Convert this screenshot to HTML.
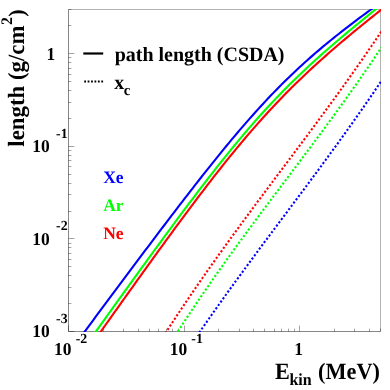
<!DOCTYPE html>
<html><head><meta charset="utf-8"><title>chart</title><style>html,body{margin:0;padding:0;background:#fff;width:390px;height:390px;overflow:hidden}</style></head><body>
<svg width="390" height="390" viewBox="0 0 390 390" style="position:absolute;left:0;top:0;will-change:transform;opacity:0.999">
<defs><clipPath id="cp"><rect x="68.0" y="9.0" width="313.0" height="323.0"/></clipPath></defs>
<rect width="390" height="390" fill="#fff"/>
<g stroke="#000" stroke-width="1" fill="none">
<path d="M68.5,9.5 H380.5 V331.5" stroke-opacity="0.3"/>
<path d="M68.5,9.5 V331.5 H380.5" stroke-opacity="0.47"/>
<path d="M68.5,331.5 v-5.9 M103.5,331.5 v-2.9 M123.5,331.5 v-2.9 M138.5,331.5 v-2.9 M149.5,331.5 v-2.9 M158.5,331.5 v-2.9 M166.5,331.5 v-2.9 M172.5,331.5 v-2.9 M178.5,331.5 v-2.9 M184.5,331.5 v-5.9 M218.5,331.5 v-2.9 M239.5,331.5 v-2.9 M253.5,331.5 v-2.9 M264.5,331.5 v-2.9 M274.5,331.5 v-2.9 M281.5,331.5 v-2.9 M288.5,331.5 v-2.9 M294.5,331.5 v-2.9 M299.5,331.5 v-5.9 M334.5,331.5 v-2.9 M354.5,331.5 v-2.9 M369.5,331.5 v-2.9 M380.5,331.5 v-2.9 M68.5,331.5 h5.9 M68.5,303.5 h2.9 M68.5,287.5 h2.9 M68.5,275.5 h2.9 M68.5,266.5 h2.9 M68.5,259.5 h2.9 M68.5,253.5 h2.9 M68.5,247.5 h2.9 M68.5,243.5 h2.9 M68.5,238.5 h5.9 M68.5,211.5 h2.9 M68.5,194.5 h2.9 M68.5,183.5 h2.9 M68.5,174.5 h2.9 M68.5,166.5 h2.9 M68.5,160.5 h2.9 M68.5,155.5 h2.9 M68.5,150.5 h2.9 M68.5,146.5 h5.9 M68.5,118.5 h2.9 M68.5,102.5 h2.9 M68.5,90.5 h2.9 M68.5,81.5 h2.9 M68.5,74.5 h2.9 M68.5,68.5 h2.9 M68.5,62.5 h2.9 M68.5,57.5 h2.9 M68.5,53.5 h5.9 M68.5,25.5 h2.9 M68.5,9.5 h2.9" stroke-opacity="0.36"/>
</g>
<g clip-path="url(#cp)" fill="none" stroke-width="2.1">
<path d="M75.00,368.07 L77.61,364.37 L80.23,360.67 L82.84,356.97 L85.45,353.27 L88.07,349.58 L90.68,345.88 L93.29,342.19 L95.91,338.49 L98.52,334.80 L101.13,331.12 L103.75,327.43 L106.36,323.74 L108.97,320.06 L111.59,316.38 L114.20,312.70 L116.82,309.02 L119.43,305.35 L122.04,301.68 L124.66,298.01 L127.27,294.35 L129.88,290.69 L132.50,287.03 L135.11,283.38 L137.72,279.73 L140.34,276.08 L142.95,272.44 L145.56,268.80 L148.18,265.17 L150.79,261.55 L153.40,257.93 L156.02,254.31 L158.63,250.71 L161.24,247.11 L163.86,243.51 L166.47,239.93 L169.08,236.35 L171.70,232.78 L174.31,229.22 L176.92,225.67 L179.54,222.12 L182.15,218.59 L184.76,215.07 L187.38,211.56 L189.99,208.06 L192.61,204.58 L195.22,201.11 L197.83,197.65 L200.45,194.20 L203.06,190.78 L205.67,187.36 L208.29,183.97 L210.90,180.59 L213.51,177.22 L216.13,173.88 L218.74,170.55 L221.35,167.25 L223.97,163.96 L226.58,160.70 L229.19,157.46 L231.81,154.24 L234.42,151.04 L237.03,147.87 L239.65,144.72 L242.26,141.60 L244.87,138.50 L247.49,135.43 L250.10,132.38 L252.71,129.36 L255.33,126.37 L257.94,123.40 L260.55,120.46 L263.17,117.55 L265.78,114.67 L268.39,111.81 L271.01,108.99 L273.62,106.19 L276.24,103.41 L278.85,100.67 L281.46,97.95 L284.08,95.27 L286.69,92.60 L289.30,89.97 L291.92,87.36 L294.53,84.78 L297.14,82.22 L299.76,79.69 L302.37,77.18 L304.98,74.69 L307.60,72.23 L310.21,69.79 L312.82,67.38 L315.44,64.98 L318.05,62.61 L320.66,60.25 L323.28,57.92 L325.89,55.60 L328.50,53.30 L331.12,51.02 L333.73,48.75 L336.34,46.50 L338.96,44.27 L341.57,42.05 L344.18,39.84 L346.80,37.65 L349.41,35.47 L352.03,33.30 L354.64,31.14 L357.25,29.00 L359.87,26.86 L362.48,24.73 L365.09,22.62 L367.71,20.51 L370.32,18.41 L372.93,16.32 L375.55,14.24 L378.16,12.16 L380.77,10.09 L383.39,8.03 L386.00,5.98" stroke="#ff0000"/>
<path d="M75.00,360.70 L77.61,357.04 L80.23,353.39 L82.84,349.73 L85.45,346.08 L88.07,342.43 L90.68,338.78 L93.29,335.13 L95.91,331.48 L98.52,327.83 L101.13,324.19 L103.75,320.54 L106.36,316.90 L108.97,313.26 L111.59,309.62 L114.20,305.98 L116.82,302.34 L119.43,298.71 L122.04,295.08 L124.66,291.45 L127.27,287.82 L129.88,284.20 L132.50,280.58 L135.11,276.96 L137.72,273.35 L140.34,269.74 L142.95,266.13 L145.56,262.53 L148.18,258.93 L150.79,255.33 L153.40,251.75 L156.02,248.16 L158.63,244.58 L161.24,241.01 L163.86,237.45 L166.47,233.89 L169.08,230.33 L171.70,226.79 L174.31,223.25 L176.92,219.73 L179.54,216.21 L182.15,212.70 L184.76,209.20 L187.38,205.71 L189.99,202.23 L192.61,198.76 L195.22,195.31 L197.83,191.87 L200.45,188.44 L203.06,185.03 L205.67,181.63 L208.29,178.25 L210.90,174.89 L213.51,171.54 L216.13,168.21 L218.74,164.90 L221.35,161.61 L223.97,158.34 L226.58,155.09 L229.19,151.86 L231.81,148.65 L234.42,145.47 L237.03,142.31 L239.65,139.18 L242.26,136.07 L244.87,132.99 L247.49,129.93 L250.10,126.90 L252.71,123.90 L255.33,120.93 L257.94,117.98 L260.55,115.06 L263.17,112.17 L265.78,109.31 L268.39,106.48 L271.01,103.67 L273.62,100.89 L276.24,98.15 L278.85,95.43 L281.46,92.74 L284.08,90.07 L286.69,87.44 L289.30,84.83 L291.92,82.24 L294.53,79.68 L297.14,77.15 L299.76,74.64 L302.37,72.16 L304.98,69.70 L307.60,67.26 L310.21,64.85 L312.82,62.45 L315.44,60.08 L318.05,57.72 L320.66,55.38 L323.28,53.07 L325.89,50.77 L328.50,48.48 L331.12,46.21 L333.73,43.96 L336.34,41.72 L338.96,39.50 L341.57,37.29 L344.18,35.09 L346.80,32.90 L349.41,30.72 L352.03,28.56 L354.64,26.40 L357.25,24.26 L359.87,22.12 L362.48,19.99 L365.09,17.87 L367.71,15.76 L370.32,13.65 L372.93,11.55 L375.55,9.46 L378.16,7.37 L380.77,5.29 L383.39,3.22 L386.00,1.15" stroke="#00ff00"/>
<path d="M75.00,344.65 L77.61,341.13 L80.23,337.61 L82.84,334.08 L85.45,330.56 L88.07,327.05 L90.68,323.53 L93.29,320.01 L95.91,316.49 L98.52,312.98 L101.13,309.46 L103.75,305.95 L106.36,302.44 L108.97,298.93 L111.59,295.42 L114.20,291.91 L116.82,288.41 L119.43,284.90 L122.04,281.40 L124.66,277.90 L127.27,274.40 L129.88,270.91 L132.50,267.41 L135.11,263.92 L137.72,260.43 L140.34,256.95 L142.95,253.47 L145.56,249.99 L148.18,246.52 L150.79,243.04 L153.40,239.58 L156.02,236.12 L158.63,232.66 L161.24,229.21 L163.86,225.76 L166.47,222.32 L169.08,218.88 L171.70,215.45 L174.31,212.03 L176.92,208.61 L179.54,205.20 L182.15,201.80 L184.76,198.41 L187.38,195.03 L189.99,191.65 L192.61,188.29 L195.22,184.94 L197.83,181.59 L200.45,178.26 L203.06,174.94 L205.67,171.64 L208.29,168.35 L210.90,165.07 L213.51,161.81 L216.13,158.56 L218.74,155.33 L221.35,152.12 L223.97,148.92 L226.58,145.75 L229.19,142.59 L231.81,139.45 L234.42,136.34 L237.03,133.25 L239.65,130.18 L242.26,127.13 L244.87,124.10 L247.49,121.11 L250.10,118.13 L252.71,115.19 L255.33,112.27 L257.94,109.37 L260.55,106.51 L263.17,103.67 L265.78,100.86 L268.39,98.08 L271.01,95.33 L273.62,92.61 L276.24,89.92 L278.85,87.26 L281.46,84.63 L284.08,82.03 L286.69,79.46 L289.30,76.92 L291.92,74.41 L294.53,71.93 L297.14,69.48 L299.76,67.05 L302.37,64.65 L304.98,62.29 L307.60,59.94 L310.21,57.63 L312.82,55.34 L315.44,53.07 L318.05,50.83 L320.66,48.62 L323.28,46.42 L325.89,44.25 L328.50,42.10 L331.12,39.97 L333.73,37.86 L336.34,35.77 L338.96,33.70 L341.57,31.64 L344.18,29.60 L346.80,27.58 L349.41,25.57 L352.03,23.58 L354.64,21.60 L357.25,19.64 L359.87,17.68 L362.48,15.74 L365.09,13.81 L367.71,11.90 L370.32,9.99 L372.93,8.09 L375.55,6.20 L378.16,4.32 L380.77,2.44 L383.39,0.58 L386.00,-1.28" stroke="#0000ff"/>
<path d="M150.00,357.56 L152.38,353.73 L154.77,349.92 L157.15,346.13 L159.54,342.37 L161.92,338.62 L164.30,334.90 L166.69,331.20 L169.07,327.53 L171.45,323.87 L173.84,320.23 L176.22,316.61 L178.61,313.02 L180.99,309.44 L183.37,305.88 L185.76,302.33 L188.14,298.81 L190.53,295.30 L192.91,291.81 L195.29,288.33 L197.68,284.87 L200.06,281.43 L202.44,278.00 L204.83,274.58 L207.21,271.18 L209.60,267.79 L211.98,264.42 L214.36,261.06 L216.75,257.71 L219.13,254.37 L221.52,251.04 L223.90,247.73 L226.28,244.42 L228.67,241.13 L231.05,237.85 L233.43,234.57 L235.82,231.30 L238.20,228.05 L240.59,224.80 L242.97,221.55 L245.35,218.32 L247.74,215.09 L250.12,211.87 L252.51,208.65 L254.89,205.44 L257.27,202.23 L259.66,199.03 L262.04,195.84 L264.42,192.64 L266.81,189.45 L269.19,186.26 L271.58,183.08 L273.96,179.90 L276.34,176.71 L278.73,173.53 L281.11,170.35 L283.49,167.17 L285.88,163.99 L288.26,160.81 L290.65,157.63 L293.03,154.45 L295.41,151.26 L297.80,148.08 L300.18,144.88 L302.57,141.69 L304.95,138.49 L307.33,135.29 L309.72,132.09 L312.10,128.88 L314.48,125.66 L316.87,122.44 L319.25,119.21 L321.64,115.97 L324.02,112.73 L326.40,109.48 L328.79,106.22 L331.17,102.96 L333.56,99.68 L335.94,96.40 L338.32,93.10 L340.71,89.80 L343.09,86.49 L345.47,83.16 L347.86,79.82 L350.24,76.47 L352.63,73.11 L355.01,69.74 L357.39,66.35 L359.78,62.95 L362.16,59.53 L364.55,56.10 L366.93,52.66 L369.31,49.20 L371.70,45.72 L374.08,42.23 L376.46,38.72 L378.85,35.20 L381.23,31.66 L383.62,28.09 L386.00,24.52" stroke="#ff0000" stroke-dasharray="2.1 2.0"/>
<path d="M150.00,376.68 L152.38,372.67 L154.77,368.68 L157.15,364.73 L159.54,360.81 L161.92,356.91 L164.30,353.04 L166.69,349.20 L169.07,345.38 L171.45,341.59 L173.84,337.83 L176.22,334.09 L178.61,330.38 L180.99,326.68 L183.37,323.02 L185.76,319.37 L188.14,315.75 L190.53,312.15 L192.91,308.57 L195.29,305.01 L197.68,301.47 L200.06,297.95 L202.44,294.45 L204.83,290.96 L207.21,287.50 L209.60,284.05 L211.98,280.62 L214.36,277.21 L216.75,273.81 L219.13,270.43 L221.52,267.06 L223.90,263.71 L226.28,260.37 L228.67,257.04 L231.05,253.73 L233.43,250.43 L235.82,247.14 L238.20,243.86 L240.59,240.59 L242.97,237.33 L245.35,234.09 L247.74,230.85 L250.12,227.62 L252.51,224.40 L254.89,221.18 L257.27,217.97 L259.66,214.77 L262.04,211.58 L264.42,208.39 L266.81,205.20 L269.19,202.02 L271.58,198.84 L273.96,195.67 L276.34,192.50 L278.73,189.33 L281.11,186.16 L283.49,183.00 L285.88,179.83 L288.26,176.67 L290.65,173.50 L293.03,170.34 L295.41,167.17 L297.80,164.00 L300.18,160.83 L302.57,157.65 L304.95,154.47 L307.33,151.29 L309.72,148.10 L312.10,144.91 L314.48,141.71 L316.87,138.51 L319.25,135.30 L321.64,132.08 L324.02,128.85 L326.40,125.62 L328.79,122.38 L331.17,119.12 L333.56,115.86 L335.94,112.59 L338.32,109.31 L340.71,106.01 L343.09,102.71 L345.47,99.39 L347.86,96.05 L350.24,92.71 L352.63,89.35 L355.01,85.98 L357.39,82.59 L359.78,79.18 L362.16,75.76 L364.55,72.32 L366.93,68.87 L369.31,65.40 L371.70,61.91 L374.08,58.40 L376.46,54.87 L378.85,51.32 L381.23,47.75 L383.62,44.16 L386.00,40.55" stroke="#00ff00" stroke-dasharray="2.1 2.0"/>
<path d="M150.00,408.19 L152.38,404.33 L154.77,400.49 L157.15,396.67 L159.54,392.87 L161.92,389.10 L164.30,385.35 L166.69,381.62 L169.07,377.91 L171.45,374.23 L173.84,370.56 L176.22,366.92 L178.61,363.29 L180.99,359.69 L183.37,356.10 L185.76,352.53 L188.14,348.98 L190.53,345.44 L192.91,341.93 L195.29,338.43 L197.68,334.94 L200.06,331.48 L202.44,328.02 L204.83,324.59 L207.21,321.16 L209.60,317.75 L211.98,314.36 L214.36,310.98 L216.75,307.61 L219.13,304.25 L221.52,300.91 L223.90,297.57 L226.28,294.25 L228.67,290.94 L231.05,287.64 L233.43,284.34 L235.82,281.06 L238.20,277.79 L240.59,274.52 L242.97,271.26 L245.35,268.01 L247.74,264.77 L250.12,261.54 L252.51,258.31 L254.89,255.08 L257.27,251.86 L259.66,248.65 L262.04,245.44 L264.42,242.24 L266.81,239.03 L269.19,235.84 L271.58,232.64 L273.96,229.45 L276.34,226.26 L278.73,223.07 L281.11,219.88 L283.49,216.69 L285.88,213.50 L288.26,210.32 L290.65,207.13 L293.03,203.94 L295.41,200.75 L297.80,197.55 L300.18,194.36 L302.57,191.16 L304.95,187.96 L307.33,184.75 L309.72,181.55 L312.10,178.33 L314.48,175.11 L316.87,171.89 L319.25,168.66 L321.64,165.42 L324.02,162.18 L326.40,158.93 L328.79,155.67 L331.17,152.41 L333.56,149.13 L335.94,145.85 L338.32,142.56 L340.71,139.25 L343.09,135.94 L345.47,132.62 L347.86,129.29 L350.24,125.94 L352.63,122.58 L355.01,119.21 L357.39,115.83 L359.78,112.44 L362.16,109.03 L364.55,105.60 L366.93,102.16 L369.31,98.71 L371.70,95.24 L374.08,91.76 L376.46,88.26 L378.85,84.74 L381.23,81.21 L383.62,77.66 L386.00,74.09" stroke="#0000ff" stroke-dasharray="2.1 2.0"/>
</g>
<path d="M83.3,53.5 H103.2" stroke="#000" stroke-width="2.2"/>
<path d="M84.2,81.4 H103.2" stroke="#000" stroke-width="2" stroke-dasharray="1.8 1.62"/>
<g font-family="'Liberation Serif', serif" font-weight="bold" fill="#000" text-rendering="geometricPrecision">
<text transform="translate(114.7,60.6) scale(0.985,1)" font-size="20.3">path length (CSDA)</text>
<text transform="translate(114.3,88.8) scale(0.985,1)" font-size="20.3">x</text>
<text transform="translate(123.8,94.5)" font-size="15">c</text>
<text transform="translate(103.2,183.2)" font-size="17.5" fill="#0000ff">Xe</text>
<text transform="translate(103.2,211.2)" font-size="17.5" fill="#00ff00">Ar</text>
<text transform="translate(103.2,239.0)" font-size="17.5" fill="#ff0000">Ne</text>
<text transform="translate(46.5,59.9) scale(0.96,1)" font-size="18.2">1</text>
<text transform="translate(32.3,152.1) scale(0.96,1)" font-size="18.2">10</text>
<text transform="translate(56.0,137.8)" font-size="13.9">-1</text>
<text transform="translate(32.3,244.7) scale(0.96,1)" font-size="18.2">10</text>
<text transform="translate(56.0,230.4)" font-size="13.9">-2</text>
<text transform="translate(32.3,337.3) scale(0.96,1)" font-size="18.2">10</text>
<text transform="translate(56.0,323.0)" font-size="13.9">-3</text>
<text transform="translate(54.1,354.6) scale(0.96,1)" font-size="18.2">10</text>
<text transform="translate(75.7,342.6)" font-size="13.9">-2</text>
<text transform="translate(169.7,354.6) scale(0.96,1)" font-size="18.2">10</text>
<text transform="translate(191.3,342.6)" font-size="13.9">-1</text>
<text transform="translate(294.2,354.6) scale(0.96,1)" font-size="18.2">1</text>
<text transform="translate(275.0,378.8) scale(0.955,1)" font-size="23.3">E</text>
<text transform="translate(289.4,385) scale(0.94,1)" font-size="17">kin</text>
<text transform="translate(318.1,378.8) scale(0.955,1)" font-size="23.3">(MeV)</text>
<text transform="translate(24.1,146.7) rotate(-90) scale(0.98,1)" font-size="23.3">length (g/cm</text>
<text transform="translate(12.1,24.9) rotate(-90)" font-size="16">2</text>
<text transform="translate(23.5,16.8) rotate(-90) scale(0.98,1)" font-size="22.6">)</text>
</g>
</svg>
</body></html>
